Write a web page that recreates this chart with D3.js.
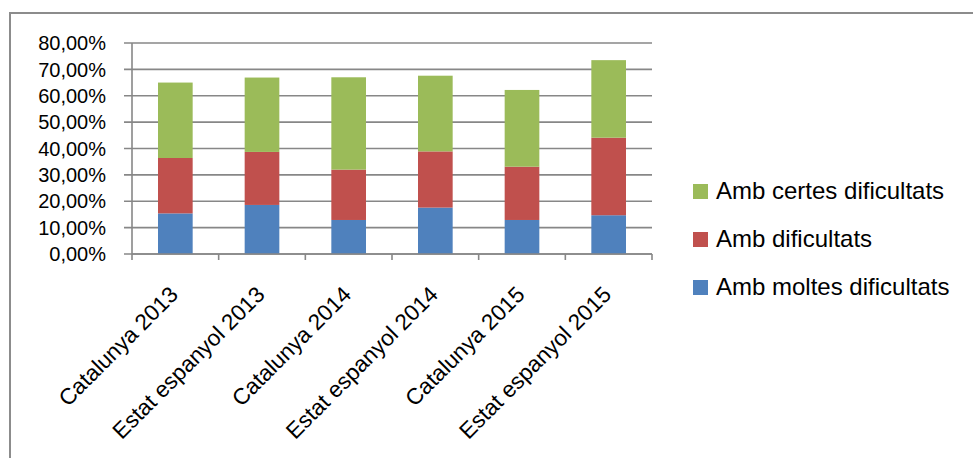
<!DOCTYPE html>
<html>
<head>
<meta charset="utf-8">
<script src="https://cdn.jsdelivr.net/npm/d3@7"></script>
<style>
  body { margin: 0; background: #fff; }
  text { font-family: "Liberation Sans", Arial, sans-serif; fill: #000; }
</style>
</head>
<body>
<div id="chart"></div>
<script>
var width = 973,
    height = 458;

// data (fractions)
var categories = ["Catalunya 2013", "Estat espanyol 2013", "Catalunya 2014",
                  "Estat espanyol 2014", "Catalunya 2015", "Estat espanyol 2015"];
var moltes  = [0.154, 0.186, 0.129, 0.176, 0.129, 0.147];
var dific   = [0.210, 0.201, 0.191, 0.213, 0.202, 0.294];
var certes  = [0.286, 0.282, 0.350, 0.287, 0.291, 0.294];
var seriesNames = ["Amb moltes dificultats", "Amb dificultats", "Amb certes dificultats"];
var colors = ["#4F81BD", "#C0504D", "#9BBB59"];
var yTicks = [0, 0.1, 0.2, 0.3, 0.4, 0.5, 0.6, 0.7, 0.8];

var rows = categories.map(function(c, i) {
    return {cat: c, "Amb moltes dificultats": moltes[i], "Amb dificultats": dific[i], "Amb certes dificultats": certes[i]};
});

var fmt = d3.formatLocale({decimal: ",", thousands: ".", grouping: [3], currency: ["", "€"]}).format(".2%");

var svg = d3.select("#chart")
    .append("svg")
    .attr("width", width)
    .attr("height", height);

// outer chart border
svg.append("rect")
    .attr("x", 10)
    .attr("y", 13)
    .attr("width", 980)
    .attr("height", 460)
    .attr("fill", "none")
    .attr("stroke", "#8c8c8c")
    .attr("stroke-width", 2);

var x = d3.scaleBand()
    .domain(categories)
    .range([132, 652])
    .paddingInner(0.6)
    .paddingOuter(0.3);

var xb = d3.scaleLinear()
    .domain([0, categories.length])
    .range([132, 652]);

var y = d3.scaleLinear()
    .domain([0, 0.8])
    .range([254, 43]);

// gridlines + y ticks
svg.append("g")
    .selectAll("line")
    .data(yTicks)
    .enter()
    .append("line")
    .attr("x1", 124)
    .attr("x2", 652)
    .attr("y1", function(d) { return y(d); })
    .attr("y2", function(d) { return y(d); })
    .attr("stroke", "#878787")
    .attr("stroke-width", 1.6);

svg.append("g")
    .selectAll("text")
    .data(yTicks)
    .enter()
    .append("text")
    .attr("x", 106)
    .attr("y", function(d) { return y(d); })
    .attr("dy", "0.36em")
    .attr("text-anchor", "end")
    .attr("font-size", "20px")
    .text(function(d) { return fmt(d); });

// y axis line
svg.append("line")
    .attr("x1", 132).attr("x2", 132)
    .attr("y1", y(0.8)).attr("y2", y(0))
    .attr("stroke", "#878787")
    .attr("stroke-width", 1.6);

var stack = d3.stack().keys(seriesNames);
var layers = stack(rows);

svg.append("g")
    .selectAll("g")
    .data(layers)
    .enter()
    .append("g")
    .attr("fill", function(d, i) { return colors[i]; })
    .selectAll("rect")
    .data(function(d) { return d; })
    .enter()
    .append("rect")
    .attr("x", function(d) { return x(d.data.cat); })
    .attr("width", x.bandwidth())
    .attr("y", function(d) { return y(d[1]); })
    .attr("height", function(d) { return y(d[0]) - y(d[1]); });

// x axis line and boundary ticks
svg.append("line")
    .attr("x1", 132).attr("x2", 652)
    .attr("y1", y(0)).attr("y2", y(0))
    .attr("stroke", "#878787")
    .attr("stroke-width", 1.6);

svg.append("g")
    .selectAll("line")
    .data(d3.range(categories.length + 1))
    .enter()
    .append("line")
    .attr("x1", function(d) { return xb(d); })
    .attr("x2", function(d) { return xb(d); })
    .attr("y1", y(0))
    .attr("y2", y(0) + 6)
    .attr("stroke", "#878787")
    .attr("stroke-width", 1.6);

// rotated category labels
svg.append("g")
    .selectAll("text")
    .data(categories)
    .enter()
    .append("text")
    .attr("text-anchor", "end")
    .attr("font-size", "22.5px")
    .attr("transform", function(d) {
        var cx = x(d) + x.bandwidth() / 2;
        return "translate(" + (cx + 4) + "," + 296 + ") rotate(-45)";
    })
    .text(function(d) { return d; });

// legend (reversed order, like the reference)
var legend = svg.append("g")
    .selectAll("g")
    .data(seriesNames.slice().reverse())
    .enter()
    .append("g")
    .attr("transform", function(d, i) { return "translate(693," + (184 + i * 48) + ")"; });

legend.append("rect")
    .attr("width", 15)
    .attr("height", 15)
    .attr("fill", function(d) { return colors[seriesNames.indexOf(d)]; });

legend.append("text")
    .attr("x", 23)
    .attr("y", 15)
    .attr("font-size", "24px")
    .text(function(d) { return d; });
</script>
</body>
</html>
